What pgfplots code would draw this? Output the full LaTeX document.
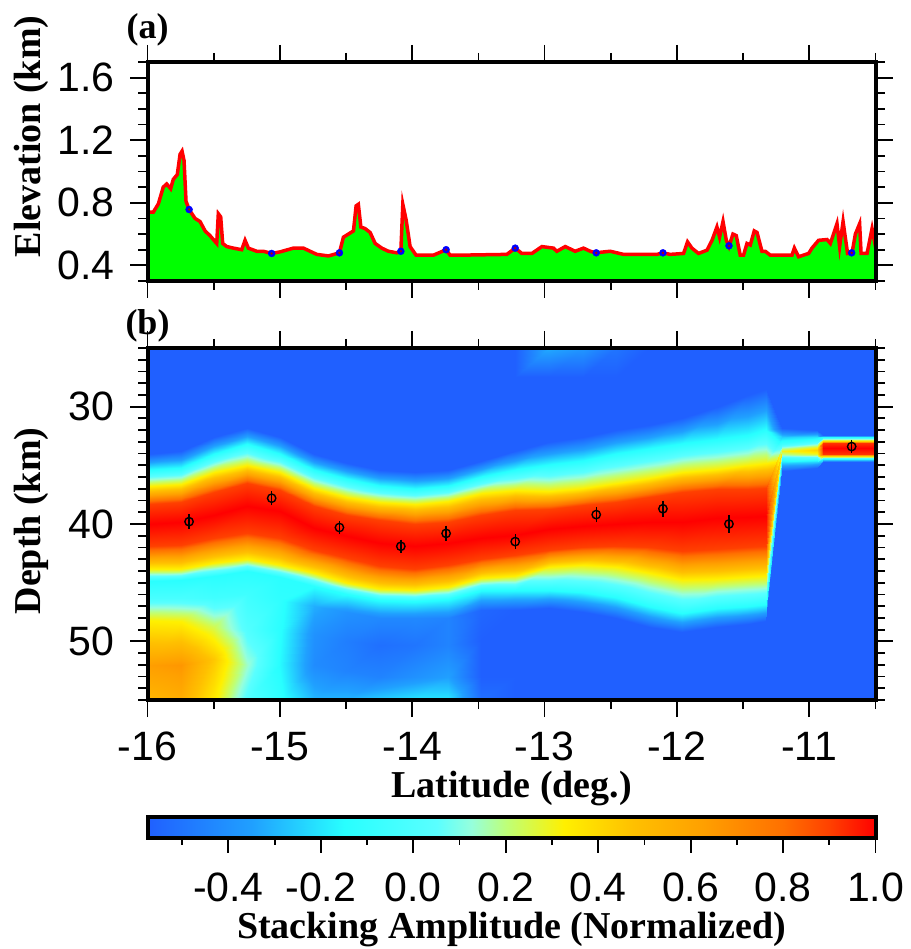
\documentclass[border=0pt]{standalone}
\usepackage{fontspec}
\setmainfont{Liberation Serif}
\setsansfont{Liberation Sans}
\usepackage{pgfplots}
\usepackage{pgfplotstable}
\pgfplotsset{compat=1.18}

\newcommand\tickfont{\fontsize{41}{41}\selectfont\sffamily}
\newcommand\labfont{\fontsize{38}{38}\selectfont\bfseries}

% elevation profile along the line
\pgfplotstableread{
lat elev
-16.000 0.740
-15.994 0.740
-15.956 0.740
-15.918 0.793
-15.881 0.900
-15.855 0.920
-15.825 0.890
-15.805 0.950
-15.775 0.980
-15.754 1.110
-15.739 1.130
-15.724 1.070
-15.709 0.810
-15.686 0.757
-15.641 0.700
-15.603 0.680
-15.565 0.620
-15.528 0.590
-15.477 0.540
-15.465 0.730
-15.447 0.710
-15.432 0.540
-15.401 0.520
-15.351 0.510
-15.288 0.500
-15.263 0.560
-15.238 0.510
-15.175 0.490
-15.125 0.490
-15.061 0.476
-14.999 0.486
-14.898 0.510
-14.822 0.510
-14.721 0.470
-14.633 0.460
-14.550 0.480
-14.520 0.580
-14.482 0.600
-14.444 0.620
-14.424 0.780
-14.407 0.790
-14.388 0.645
-14.356 0.635
-14.318 0.610
-14.280 0.540
-14.230 0.510
-14.180 0.490
-14.116 0.480
-14.086 0.490
-14.071 0.790
-14.046 0.690
-14.016 0.520
-13.971 0.465
-13.840 0.465
-13.744 0.500
-13.714 0.465
-13.638 0.465
-13.285 0.470
-13.222 0.510
-13.172 0.476
-13.096 0.476
-13.020 0.520
-12.933 0.510
-12.907 0.490
-12.844 0.520
-12.769 0.490
-12.706 0.510
-12.655 0.490
-12.618 0.480
-12.504 0.490
-12.404 0.470
-12.151 0.470
-12.106 0.480
-12.051 0.470
-11.950 0.476
-11.920 0.550
-11.887 0.510
-11.837 0.476
-11.773 0.497
-11.735 0.560
-11.698 0.645
-11.678 0.580
-11.652 0.680
-11.627 0.560
-11.607 0.520
-11.577 0.600
-11.552 0.590
-11.522 0.465
-11.497 0.465
-11.471 0.540
-11.446 0.530
-11.416 0.620
-11.395 0.610
-11.358 0.490
-11.333 0.490
-11.295 0.465
-11.131 0.465
-11.113 0.510
-11.081 0.455
-11.005 0.476
-10.980 0.510
-10.930 0.560
-10.866 0.565
-10.841 0.540
-10.791 0.666
-10.771 0.520
-10.745 0.680
-10.711 0.476
-10.677 0.480
-10.652 0.600
-10.620 0.666
-10.609 0.476
-10.564 0.476
-10.526 0.635
-10.509 0.560
-10.500 0.600
}\elev

% stations: elevation, Moho depth and its error
\pgfplotstableread{
lat elev dep err
-15.686 0.757 39.8 0.40
-15.062 0.476 37.8 0.40
-14.550 0.480 40.3 0.35
-14.086 0.490 41.9 0.35
-13.744 0.500 40.8 0.45
-13.222 0.510 41.5 0.40
-12.610 0.480 39.2 0.45
-12.106 0.480 38.7 0.47
-11.607 0.525 40.0 0.55
-10.680 0.480 33.4 0.35
}\sta

\pgfplotsset{
  colormap={amp}{rgb255(0pt)=(32,96,255) rgb255(225pt)=(32,160,255) rgb255(425pt)=(40,255,255)
    rgb255(625pt)=(90,255,255) rgb255(700pt)=(150,255,220) rgb255(775pt)=(190,255,120)
    rgb255(900pt)=(255,240,0) rgb255(1050pt)=(255,192,0) rgb255(1200pt)=(255,160,0)
    rgb255(1375pt)=(255,112,0) rgb255(1475pt)=(255,64,0) rgb255(1575pt)=(255,0,0)},
  gmt/.style={
    scale only axis, width=728pt,
    axis line style={line width=4pt},
    tick align=outside,
    major tick length=17pt, minor tick length=9pt,
    tick style={black, line width=1.8pt},
    tick label style={font=\tickfont, inner sep=0pt},
    label style={font=\labfont},
    /pgf/number format/assume math mode=true,
    xmin=-16, xmax=-10.5,
    xtick={-16,-15,-14,-13,-12,-11},
    minor xtick={-15.5,-14.5,-13.5,-12.5,-11.5,-10.5},
    xticklabel style={anchor=north, yshift=-15pt},
    yticklabel style={anchor=east, xshift=-16pt},
    colormap name=amp, point meta min=-0.575, point meta max=1,
    axis on top,
  },
}

\begin{document}
\begin{tikzpicture}
\useasboundingbox (0,0) rectangle (910pt,949pt);

% (a) elevation
\begin{axis}[gmt, at={(147.5pt,668pt)}, anchor=south west, height=219pt,
  ymin=0.3, ymax=1.7, ytick={0.4,0.8,1.2,1.6},
  minor ytick={0.3,0.5,0.6,0.7,0.9,1.0,1.1,1.3,1.4,1.5,1.7},
  xticklabels={},
  yticklabel style={/pgf/number format/.cd, fixed, fixed zerofill, precision=1},
  ylabel={Elevation (km)},
  ylabel style={at={(axis description cs:-0.1593,0.66)}, anchor=center},
  title={(a)},
  title style={font=\fontsize{36}{36}\selectfont\bfseries, at={(axis description cs:0,1)}, anchor=center, yshift=26pt},
]
\addplot[draw=none, fill=green] table[x=lat, y=elev] {\elev} \closedcycle;
\addplot[red, line width=3.5pt] table[x=lat, y=elev] {\elev};
\addplot[only marks, mark=*, mark size=3.5pt, blue] table[x=lat, y=elev] {\sta};
\addplot[only marks, mark=*, mark size=1pt, red!70!black] table[x=lat, y=elev] {\sta};
\end{axis}

% (b) stacking amplitude
\begin{axis}[gmt, at={(147.5pt,249pt)}, anchor=south west, height=352pt,
  ymin=25, ymax=55, y dir=reverse, ytick={30,40,50}, minor ytick={25,26,...,55},
  xlabel={Latitude (deg.)},
  xlabel style={at={(axis description cs:0.5,0)}, anchor=base, yshift=-97pt},
  ylabel={Depth (km)},
  ylabel style={at={(axis description cs:-0.1593,0.5085)}, anchor=center},
  title={(b)},
  title style={font=\fontsize{36}{36}\selectfont\bfseries, at={(axis description cs:0,1)}, anchor=center, yshift=16pt},
]
\addplot[surf, shader=interp, mesh/cols=14, point meta=explicit] coordinates {
(-16,25)[-0.575] (-16,27.5)[-0.575] (-16,34.0)[-0.575] (-16,35.4)[-0.14] (-16,36.8)[0.32] (-16,38.3)[0.9] (-16,40.0)[1] (-16,41.9)[0.9] (-16,43.8)[0.32] (-16,44.9)[-0.14] (-16,46.3)[-0.02] (-16,48.2)[0.32] (-16,52)[0.63] (-16,55)[0.52]
(-15.75,25)[-0.575] (-15.75,27.5)[-0.575] (-15.75,33.8)[-0.575] (-15.75,35.2)[-0.14] (-15.75,36.6)[0.32] (-15.75,38.1)[0.9] (-15.75,39.8)[1] (-15.75,41.8)[0.9] (-15.75,43.8)[0.32] (-15.75,44.8)[-0.14] (-15.75,46.3)[-0.02] (-15.75,48.3)[0.32] (-15.75,52)[0.66] (-15.75,55)[0.56]
(-15.5,25)[-0.575] (-15.5,27.5)[-0.575] (-15.5,32.6)[-0.575] (-15.5,34.0)[-0.14] (-15.5,35.6)[0.32] (-15.5,37.3)[0.9] (-15.5,39.2)[1] (-15.5,41.2)[0.9] (-15.5,43.3)[0.32] (-15.5,44.4)[-0.14] (-15.5,46.3)[-0.05] (-15.5,48.8)[0.24] (-15.5,51.5)[0.45] (-15.5,55)[0.34]
(-15.25,25)[-0.575] (-15.25,27.5)[-0.575] (-15.25,31.8)[-0.575] (-15.25,33.2)[-0.14] (-15.25,35.0)[0.32] (-15.25,36.5)[0.9] (-15.25,38.5)[1] (-15.25,40.8)[0.9] (-15.25,43.0)[0.32] (-15.25,44.0)[-0.14] (-15.25,46.0)[-0.06] (-15.25,49)[0.02] (-15.25,52)[0.14] (-15.25,55)[0.02]
(-15.0,25)[-0.575] (-15.0,27.5)[-0.575] (-15.0,32.6)[-0.575] (-15.0,34.0)[-0.14] (-15.0,35.6)[0.32] (-15.0,37.1)[0.9] (-15.0,38.9)[1] (-15.0,41.2)[0.9] (-15.0,43.5)[0.32] (-15.0,44.5)[-0.14] (-15.0,46.5)[-0.12] (-15.0,49)[-0.14] (-15.0,52)[-0.16] (-15.0,55)[-0.12]
(-14.74,25)[-0.575] (-14.74,27.5)[-0.575] (-14.74,34.0)[-0.575] (-14.74,35.4)[-0.14] (-14.74,36.9)[0.32] (-14.74,38.5)[0.9] (-14.74,40.3)[1] (-14.74,42.2)[0.9] (-14.74,44.2)[0.32] (-14.74,45.3)[-0.14] (-14.74,47)[-0.32] (-14.74,49.5)[-0.40] (-14.74,52)[-0.42] (-14.74,55)[-0.30]
(-14.49,25)[-0.575] (-14.49,27.5)[-0.575] (-14.49,34.8)[-0.575] (-14.49,36.2)[-0.14] (-14.49,37.7)[0.32] (-14.49,39.2)[0.9] (-14.49,41.0)[1] (-14.49,42.9)[0.9] (-14.49,45.0)[0.32] (-14.49,46.0)[-0.14] (-14.49,47.5)[-0.40] (-14.49,50)[-0.47] (-14.49,52.5)[-0.45] (-14.49,55)[-0.30]
(-14.24,25)[-0.575] (-14.24,27.5)[-0.575] (-14.24,35.4)[-0.575] (-14.24,36.8)[-0.14] (-14.24,38.1)[0.32] (-14.24,39.7)[0.9] (-14.24,41.6)[1] (-14.24,43.6)[0.9] (-14.24,45.5)[0.32] (-14.24,46.5)[-0.14] (-14.24,48)[-0.43] (-14.24,50.3)[-0.52] (-14.24,53)[-0.45] (-14.24,55)[-0.25]
(-13.98,25)[-0.575] (-13.98,27.5)[-0.575] (-13.98,35.6)[-0.575] (-13.98,37.0)[-0.14] (-13.98,38.3)[0.32] (-13.98,40.0)[0.9] (-13.98,41.9)[1] (-13.98,43.8)[0.9] (-13.98,45.6)[0.32] (-13.98,46.6)[-0.14] (-13.98,48)[-0.43] (-13.98,50.3)[-0.50] (-13.98,53)[-0.40] (-13.98,55)[-0.20]
(-13.73,25)[-0.575] (-13.73,27.5)[-0.575] (-13.73,35.4)[-0.575] (-13.73,36.8)[-0.14] (-13.73,38.0)[0.32] (-13.73,39.8)[0.9] (-13.73,41.6)[1] (-13.73,43.5)[0.9] (-13.73,45.4)[0.32] (-13.73,46.4)[-0.14] (-13.73,48)[-0.45] (-13.73,50.3)[-0.45] (-13.73,53)[-0.35] (-13.73,55)[-0.20]
(-13.48,25)[-0.575] (-13.48,27.5)[-0.575] (-13.48,34.6)[-0.575] (-13.48,36.0)[-0.14] (-13.48,37.4)[0.32] (-13.48,39.2)[0.9] (-13.48,41.2)[1] (-13.48,43.0)[0.9] (-13.48,44.6)[0.32] (-13.48,45.6)[-0.14] (-13.48,47.3)[-0.55] (-13.48,50)[-0.575] (-13.48,53)[-0.575] (-13.48,55)[-0.52]
(-13.22,25)[-0.575] (-13.22,27.5)[-0.575] (-13.22,33.8)[-0.575] (-13.22,35.4)[-0.14] (-13.22,37.1)[0.32] (-13.22,38.8)[0.9] (-13.22,40.9)[1] (-13.22,42.6)[0.9] (-13.22,44.4)[0.32] (-13.22,45.6)[-0.14] (-13.22,47.3)[-0.575] (-13.22,50)[-0.575] (-13.22,53)[-0.575] (-13.22,55)[-0.575]
(-12.97,25)[-0.32] (-12.97,27.5)[-0.575] (-12.97,33.0)[-0.575] (-12.97,35.0)[-0.14] (-12.97,37.2)[0.32] (-12.97,38.7)[0.9] (-12.97,40.4)[1] (-12.97,42.2)[0.9] (-12.97,43.7)[0.32] (-12.97,45.6)[-0.14] (-12.97,47.2)[-0.575] (-12.97,50)[-0.575] (-12.97,53)[-0.575] (-12.97,55)[-0.575]
(-12.71,25)[-0.38] (-12.71,27.5)[-0.575] (-12.71,32.6)[-0.575] (-12.71,34.6)[-0.14] (-12.71,36.9)[0.32] (-12.71,38.4)[0.9] (-12.71,40.2)[1] (-12.71,42.0)[0.9] (-12.71,43.5)[0.32] (-12.71,45.8)[-0.14] (-12.71,47.5)[-0.575] (-12.71,50)[-0.575] (-12.71,53)[-0.575] (-12.71,55)[-0.575]
(-12.46,25)[-0.50] (-12.46,27.5)[-0.575] (-12.46,32.0)[-0.575] (-12.46,34.0)[-0.14] (-12.46,36.5)[0.32] (-12.46,38.1)[0.9] (-12.46,40.0)[1] (-12.46,41.9)[0.9] (-12.46,43.7)[0.32] (-12.46,46.2)[-0.14] (-12.46,48.0)[-0.575] (-12.46,50)[-0.575] (-12.46,53)[-0.575] (-12.46,55)[-0.575]
(-12.21,25)[-0.575] (-12.21,27.5)[-0.575] (-12.21,31.6)[-0.575] (-12.21,33.6)[-0.14] (-12.21,36.1)[0.32] (-12.21,37.7)[0.9] (-12.21,39.8)[1] (-12.21,42.0)[0.9] (-12.21,44.2)[0.32] (-12.21,47.0)[-0.14] (-12.21,48.8)[-0.575] (-12.21,50)[-0.575] (-12.21,53)[-0.575] (-12.21,55)[-0.575]
(-11.96,25)[-0.575] (-11.96,27.5)[-0.575] (-11.96,31.0)[-0.575] (-11.96,33.2)[-0.14] (-11.96,35.6)[0.32] (-11.96,37.3)[0.9] (-11.96,39.8)[1] (-11.96,42.3)[0.9] (-11.96,44.8)[0.32] (-11.96,47.6)[-0.14] (-11.96,49.2)[-0.575] (-11.96,50)[-0.575] (-11.96,53)[-0.575] (-11.96,55)[-0.575]
(-11.70,25)[-0.575] (-11.70,27.5)[-0.575] (-11.70,30.0)[-0.575] (-11.70,32.8)[-0.14] (-11.70,35.3)[0.32] (-11.70,37.0)[0.9] (-11.70,39.5)[1] (-11.70,42.1)[0.9] (-11.70,44.7)[0.32] (-11.70,47.2)[-0.14] (-11.70,48.8)[-0.575] (-11.70,50)[-0.575] (-11.70,53)[-0.575] (-11.70,55)[-0.575]
(-11.46,25)[-0.575] (-11.46,27.5)[-0.575] (-11.46,29.0)[-0.575] (-11.46,32.5)[-0.14] (-11.46,35.0)[0.32] (-11.46,37.0)[0.9] (-11.46,39.4)[1] (-11.46,42.0)[0.9] (-11.46,44.5)[0.32] (-11.46,47.0)[-0.14] (-11.46,48.5)[-0.575] (-11.46,50)[-0.575] (-11.46,53)[-0.575] (-11.46,55)[-0.575]
(-11.33,25)[-0.575] (-11.33,27.5)[-0.575] (-11.33,28.5)[-0.575] (-11.33,32.0)[-0.14] (-11.33,34.8)[0.32] (-11.33,36.9)[0.9] (-11.33,39.3)[1] (-11.33,41.9)[0.9] (-11.33,44.4)[0.32] (-11.33,46.8)[-0.14] (-11.33,48.3)[-0.575] (-11.33,50)[-0.575] (-11.33,53)[-0.575] (-11.33,55)[-0.575]
(-11.21,25)[-0.575] (-11.21,27.5)[-0.575] (-11.21,31.8)[-0.575] (-11.21,32.6)[-0.25] (-11.21,33.2)[-0.05] (-11.21,33.5)[0.15] (-11.21,33.8)[0.30] (-11.21,34.1)[0.15] (-11.21,34.4)[-0.05] (-11.21,34.8)[-0.25] (-11.21,35.5)[-0.575] (-11.21,45)[-0.575] (-11.21,50)[-0.575] (-11.21,55)[-0.575]
(-10.94,25)[-0.575] (-10.94,27.5)[-0.575] (-10.94,32.0)[-0.575] (-10.94,32.6)[-0.20] (-10.94,33.1)[0.05] (-10.94,33.4)[0.28] (-10.94,33.7)[0.42] (-10.94,34.0)[0.28] (-10.94,34.3)[0.05] (-10.94,34.7)[-0.25] (-10.94,35.2)[-0.575] (-10.94,45)[-0.575] (-10.94,50)[-0.575] (-10.94,55)[-0.575]
(-10.90,25)[-0.575] (-10.90,27.5)[-0.575] (-10.90,32.4)[-0.575] (-10.90,32.6)[-0.14] (-10.90,32.9)[0.40] (-10.90,33.1)[0.92] (-10.90,33.55)[1] (-10.90,34.0)[0.92] (-10.90,34.2)[0.40] (-10.90,34.45)[-0.14] (-10.90,34.7)[-0.575] (-10.90,45)[-0.575] (-10.90,50)[-0.575] (-10.90,55)[-0.575]
(-10.5,25)[-0.575] (-10.5,27.5)[-0.575] (-10.5,32.4)[-0.575] (-10.5,32.6)[-0.14] (-10.5,32.9)[0.40] (-10.5,33.1)[0.92] (-10.5,33.55)[1] (-10.5,34.0)[0.92] (-10.5,34.2)[0.40] (-10.5,34.45)[-0.14] (-10.5,34.7)[-0.575] (-10.5,45)[-0.575] (-10.5,50)[-0.575] (-10.5,55)[-0.575]
};
\addplot[only marks, mark=o, mark size=4.2pt, black, line width=1.4pt,
  error bars/.cd, y dir=both, y explicit,
  error bar style={line width=1.4pt, black},
  error mark options={line width=1.4pt, mark size=2.5pt, black}]
  table[x=lat, y=dep, y error=err] {\sta};
\end{axis}

% colour scale of the stacking amplitude
\begin{axis}[gmt, at={(147.5pt,111pt)}, anchor=south west, height=21pt,
  xmin=-0.575, xmax=1, ymin=0, ymax=1, ytick=\empty,
  xtick={-0.4,-0.2,0,0.2,0.4,0.6,0.8,1},
  xticklabels={-0.4,-0.2,0.0,0.2,0.4,0.6,0.8,1.0},
  minor xtick={-0.5,-0.3,-0.1,0.1,0.3,0.5,0.7,0.9},
  xtick pos=bottom, major tick length=15pt, minor tick length=7pt,
  xticklabel style={yshift=-5pt},
  xlabel={Stacking Amplitude (Normalized)},
  xlabel style={at={(axis description cs:0.5,0)}, anchor=base, yshift=-100pt},
]
\addplot[surf, shader=interp, mesh/cols=2, point meta=x] coordinates {
(-0.575,0) (-0.575,1)
(1,0) (1,1)
};
\end{axis}
\end{tikzpicture}
\end{document}
